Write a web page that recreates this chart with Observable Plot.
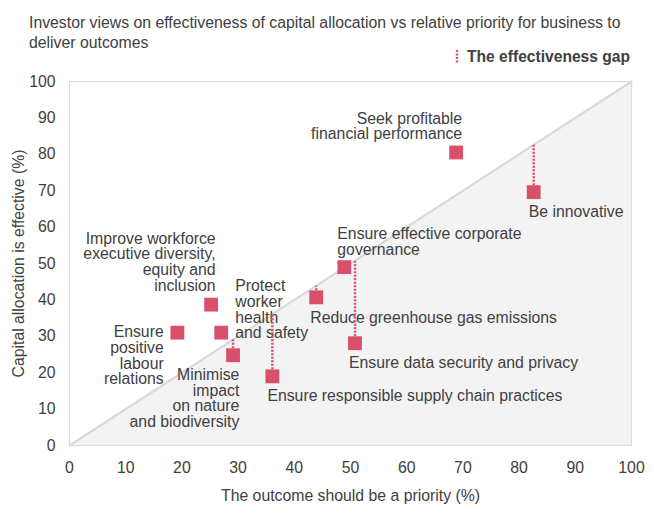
<!DOCTYPE html>
<html><head><meta charset="utf-8">
<script src="https://cdn.jsdelivr.net/npm/d3@7"></script>
<script src="https://cdn.jsdelivr.net/npm/@observablehq/plot@0.6"></script>
<style>
body{margin:0;background:#fff;font-family:"Liberation Sans",Arial,sans-serif;}
#wrap{position:relative;width:654px;height:513px;overflow:hidden}
#title{position:absolute;left:29px;top:13px;font-size:15.8px;line-height:19.5px;color:#404040;white-space:nowrap}
#legend{position:absolute;right:24px;top:47px;font-size:15.6px;font-weight:bold;line-height:20px;color:#404040;display:flex;align-items:center}
#legend svg{margin-right:7px}
#chart{position:absolute;left:0;top:0}
</style></head><body>
<div id="wrap">
<div id="chart"></div>
<div id="title">Investor views on effectiveness of capital allocation vs relative priority for business to<br>deliver outcomes</div>
<div id="legend"><svg width="6" height="16"><line x1="3" x2="3" y1="1" y2="15" stroke="#d9506b" stroke-width="2.5" stroke-dasharray="2 1.5"/></svg><span>The effectiveness gap</span></div>
</div>
<script>
const outcomes = [
  "Seek profitable financial performance",
  "Be innovative",
  "Ensure effective corporate governance",
  "Reduce greenhouse gas emissions",
  "Ensure data security and privacy",
  "Ensure responsible supply chain practices",
  "Protect worker health and safety",
  "Improve workforce executive diversity, equity and inclusion",
  "Ensure positive labour relations",
  "Minimise impact on nature and biodiversity"
];
const priority      = [68.8, 82.6, 48.9, 43.9, 50.8, 36.1, 27.0, 25.2, 19.2, 29.1];
const effectiveness = [80.5, 69.6, 49.0, 40.7, 28.1, 19.0, 31.0, 38.7, 31.0, 24.8];
const labels = [
  "Seek profitable\nfinancial performance",
  "Be innovative",
  "Ensure effective corporate\ngovernance",
  "Reduce greenhouse gas emissions",
  "Ensure data security and privacy",
  "Ensure responsible supply chain practices",
  "Protect\nworker\nhealth\nand safety",
  "Improve workforce\nexecutive diversity,\nequity and\ninclusion",
  "Ensure\npositive\nlabour\nrelations",
  "Minimise\nimpact\non nature\nand biodiversity"
];
const xTicks = [0, 10, 20, 30, 40, 50, 60, 70, 80, 90, 100];
const yTicks = [0, 10, 20, 30, 40, 50, 60, 70, 80, 90, 100];
const parity = [0, 100];
const xLabel = "The outcome should be a priority (%)";
const yLabel = "Capital allocation is effective (%)";

// label placement (layout only)
const labelLayout = [
  {anchor: "end",   line: "bottom", dx: 6,    dy: -13},
  {anchor: "start", line: "top",    dx: -5,   dy: 13.4},
  {anchor: "start", line: "bottom", dx: -7,   dy: -12.5},
  {anchor: "start", line: "top",    dx: -6,   dy: 14.1},
  {anchor: "start", line: "top",    dx: -6,   dy: 14},
  {anchor: "start", line: "top",    dx: -5,   dy: 13.4},
  {anchor: "start", line: "top",    dx: 14,   dy: -52.9},
  {anchor: "end",   line: "bottom", dx: 4.5,  dy: -13.7},
  {anchor: "end",   line: "top",    dx: -13.7, dy: -6.9},
  {anchor: "end",   line: "top",    dx: 6.3,  dy: 13.4}
];

const pink = "#d9506b";
const ink = "#404040";
const fs = 15.8;
const rows = outcomes.map((name, i) => ({name, priority: priority[i], effectiveness: effectiveness[i], label: labels[i], i}));
const gaps = rows.filter(d => d.effectiveness < d.priority - 0.5);

const textMarks = rows.map(d => {
  const L = labelLayout[d.i];
  return Plot.text([d], {
    x: "priority", y: "effectiveness", text: "label",
    textAnchor: L.anchor, lineAnchor: L.line, dx: L.dx, dy: L.dy,
    fontSize: fs, lineHeight: 1.0, fill: ink
  });
});

const chart = Plot.plot({
  width: 654, height: 513,
  marginLeft: 69, marginRight: 23, marginTop: 81, marginBottom: 68,
  style: {fontFamily: "'Liberation Sans', Arial, sans-serif", fontSize: fs + "px", color: ink, background: "transparent"},
  x: {domain: [0, 100]},
  y: {domain: [0, 100]},
  marks: [
    Plot.areaY(parity, {x: d => d, y: d => d, fill: "#f3f3f3"}),
    Plot.frame({stroke: "#dcdcdc", strokeWidth: 1.2}),
    Plot.line(parity, {x: d => d, y: d => d, stroke: "#d9d9d9", strokeWidth: 2.2}),
    Plot.axisX({ticks: xTicks, tickSize: 0, tickPadding: 16, fontSize: fs, label: xLabel, labelAnchor: "center", labelOffset: 55, labelArrow: "none"}),
    Plot.axisY({ticks: yTicks, tickSize: 0, tickPadding: 14, fontSize: fs, label: yLabel, labelAnchor: "center", labelOffset: 57, labelArrow: "none"}),
    ...textMarks,
    Plot.link(gaps, {x1: "priority", x2: "priority", y1: "effectiveness", y2: "priority", stroke: pink, strokeWidth: 2.5, strokeDasharray: "2 1.5"}),
    Plot.dot(rows, {x: "priority", y: "effectiveness", symbol: "square", r: 7.8, fill: pink, stroke: "none"})
  ]
});
document.getElementById("chart").appendChild(chart);
</script>
</body></html>
